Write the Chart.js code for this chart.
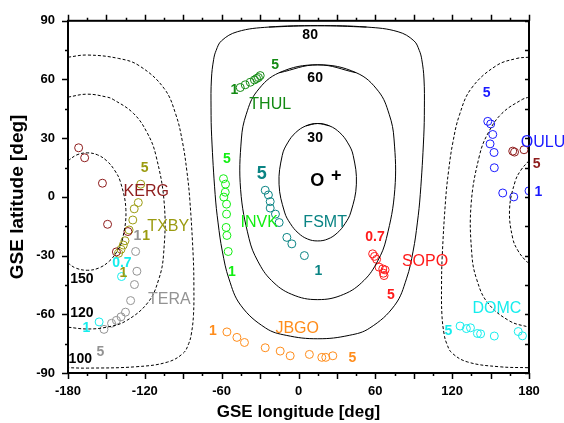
<!DOCTYPE html>
<html>
<head>
<meta charset="utf-8">
<script src="https://cdn.jsdelivr.net/npm/chart.js@4.4.0/dist/chart.umd.min.js"></script>
<style>
  html, body { margin: 0; padding: 0; background: #fff; }
</style>
</head>
<body>
<canvas id="myChart" width="564" height="423"></canvas>
<script>
// station tracks, [GSE longitude, GSE latitude]
const thul = [[-45.5,55.9],[-41.6,57.3],[-37.7,58.6],[-34.4,59.8],[-32.7,60.5],[-31.3,61.0],[-29.9,62.0]];
const invk = [[-58.6,9.3],[-57.0,6.5],[-57.2,2.4],[-58.3,-0.1],[-56.2,-3.7],[-56.2,-8.8],[-56.5,-15.6],[-55.9,-19.7],[-54.9,-27.9]];
const fsmt = [[-26.0,3.4],[-23.5,1.0],[-22.1,-2.4],[-22.1,-5.7],[-18.0,-8.8],[-15.1,-13.1],[-9.1,-20.7],[-5.2,-24.0],[4.6,-30.0]];
const sopo = [[57.9,-29.1],[59.4,-30.4],[61.0,-31.9],[62.9,-35.9],[65.8,-36.8],[67.6,-37.3],[66.3,-39.0],[66.8,-40.2]];
const jbgo = [[-55.9,-69.0],[-48.1,-71.8],[-42.2,-74.4],[-26.0,-77.1],[-14.3,-78.8],[-6.5,-81.2],[8.5,-80.5],[18.2,-82.0],[21.3,-82.0],[26.8,-81.2]];
const domc = [[126.2,-66.0],[131.1,-67.3],[134.3,-66.9],[139.7,-69.8],[142.2,-70.0],[152.9,-71.1],[171.6,-68.8],[174.9,-71.0],[-155.7,-63.9],[-138.2,-40.7]];
const oulu = [[147.8,38.6],[150.1,37.3],[151.7,31.9],[149.6,27.1],[152.7,22.7],[152.9,14.9],[159.5,2.0],[168.1,0.0],[180.0,3.1]];
const kerg = [[-171.7,25.1],[-167.0,20.0],[-153.1,7.0],[-149.1,-14.0],[-133.2,-17.7],[-142.2,-28.1],[167.3,23.4],[168.7,22.9],[176.1,24.1]];
const txby = [[-123.2,6.5],[-125.1,-2.9],[-128.3,-6.1],[-129.4,-11.8],[-132.3,-16.9],[-135.5,-22.4],[-136.8,-24.6],[-138.6,-26.8],[-140.5,-28.8]];
const tera = [[-127.2,-27.9],[-126.2,-38.0],[-128.1,-44.8],[-131.1,-53.0],[-135.1,-58.9],[-138.6,-61.3],[-142.2,-63.1],[-146.0,-64.6],[-151.9,-67.7]];

// contour lines of angle [deg]
const contour30 = [[15,37.5],[24.2,36.3],[32.3,32.8],[38.5,27.6],[42.7,21.2],[45.2,6.5],[40.9,-7.75],[36.3,-13.7],[30.3,-18.4],[23,-21.5],[15,-22.5],[7,-21.5],[-0.3,-18.4],[-6.3,-13.7],[-10.9,-7.75],[-15.2,6.5],[-12.7,21.2],[-8.5,27.6],[-2.3,32.8],[5.8,36.3],[15,37.5]];
const contour60 = [[15,67.5],[45.1,63.45],[62.4,54.0],[70.8,42.25],[74.6,29.6],[75.2,3.7],[68.6,-21.35],[61.8,-32.8],[51.1,-42.7],[35.3,-49.8],[15,-52.5],[-5.3,-49.8],[-21.1,-42.7],[-31.8,-32.8],[-38.6,-21.35],[-45.2,3.7],[-44.6,29.6],[-40.8,42.25],[-32.4,54.0],[-15.1,63.45],[15,67.5]];
const contour80 = [[15,87.5],[53.2,86.8],[77.8,84.4],[90.1,79.8],[94.3,74.9],[96.3,70.1],[98.0,60.25],[98.3,45.5],[97.8,30.7],[95.1,1.3],[92.8,-13.3],[89.5,-27.7],[84.3,-41.9],[75.1,-55.4],[55.7,-67.0],[39.6,-70.75],[15,-72.5],[-9.6,-70.75],[-25.7,-67.0],[-45.1,-55.4],[-54.3,-41.9],[-59.5,-27.7],[-62.8,-13.3],[-65.1,1.3],[-67.8,30.7],[-68.3,45.5],[-68.0,60.25],[-66.3,70.1],[-64.3,74.9],[-60.1,79.8],[-47.8,84.4],[-23.2,86.8],[15,87.5]];
const contour100a = [[-180,71.4],[-165,72.5],[-140.4,70.75],[-124.3,67],[-104.9,55.4],[-95.7,41.9],[-90.5,27.7],[-87.2,13.3],[-84.9,-1.3],[-82.2,-30.7],[-81.7,-45.5],[-82,-60.25],[-83.7,-70.1],[-85.7,-74.9],[-89.9,-79.8],[-102.2,-84.4],[-126.8,-86.8],[-165,-87.5],[-180,-87.3]];
const contour100b = [[180,71.4],[170.4,70.75],[154.3,67],[134.9,55.4],[125.7,41.9],[120.5,27.7],[117.2,13.3],[114.9,-1.3],[112.2,-30.7],[111.7,-45.5],[112,-60.25],[113.7,-70.1],[115.7,-74.9],[119.9,-79.8],[132.2,-84.4],[156.8,-86.8],[180,-87.3]];
const contour120a = [[-180,51.0],[-165,52.5],[-149.8,51.05],[-144.7,49.8],[-128.9,42.7],[-118.2,32.8],[-111.4,21.35],[-104.8,-3.7],[-105.4,-29.6],[-109.2,-42.25],[-117.6,-54.0],[-134.9,-63.45],[-149.6,-66.55],[-165,-67.5],[-180,-66.6]];
const contour120b = [[180,51.0],[174.7,49.8],[158.9,42.7],[148.2,32.8],[141.4,21.35],[134.8,-3.7],[135.4,-29.6],[139.2,-42.25],[147.6,-54],[164.9,-63.45],[180,-66.6]];
const contour150a = [[-180,18.5],[-173,21.5],[-165,22.5],[-157,21.5],[-149.7,18.4],[-143.7,13.7],[-139.1,7.75],[-134.8,-6.5],[-137.3,-21.2],[-141.5,-27.6],[-147.7,-32.8],[-155.8,-36.3],[-165,-37.5],[-174.2,-36.3],[-180,-33.8]];
const contour150b = [[180,18.5],[173.7,13.7],[169.1,7.75],[164.8,-6.5],[167.3,-21.2],[171.5,-27.6],[177.7,-32.8],[180,-33.8]];

const xTicks = [-180, -120, -60, 0, 60, 120, 180];
const yTicks = [-90, -60, -30, 0, 30, 60, 90];

const colors = {
  THUL: '#138a13', INVK: '#11ee11', FSMT: '#0a8484', SOPO: '#ff1a1a', JBGO: '#ff8c1a',
  DOMC: '#15eded', OULU: '#1a1aff', KERG: '#8e1c1c', TXBY: '#9b9b10', TERA: '#939393', K: '#000'
};

// text notes: text, lon, lat, colour key, kind
const notes = [
  ['THUL', -22.1, 47.3, 'THUL', 'name'], ['1', -50, 54.8, 'THUL', 'num'], ['5', -18.2, 67.5, 'THUL', 'num'],
  ['INVK', -30.7, -13.2, 'INVK', 'name'], ['5', -55.9, 19.2, 'INVK', 'num'], ['1', -52.0, -38.5, 'INVK', 'num'],
  ['FSMT', 20.8, -13.2, 'FSMT', 'name'], ['5', -28.6, 11.5, 'FSMT', 'big'], ['1', 15.6, -38, 'FSMT', 'num'],
  ['SOPO', 98.8, -33, 'SOPO', 'name'], ['0.7', 59.7, -20.7, 'SOPO', 'num'], ['5', 72.1, -50.3, 'SOPO', 'num'],
  ['JBGO', -1.0, -67.1, 'JBGO', 'name'], ['1', -66.8, -68.6, 'JBGO', 'num'], ['5', 42.1, -82.5, 'JBGO', 'num'],
  ['DOMC', 155, -56.9, 'DOMC', 'name'], ['5', 117, -68.6, 'DOMC', 'num'], ['0.7', -137.9, -33.6, 'DOMC', 'num'], ['1', -165.7, -67.1, 'DOMC', 'num'],
  ['OULU', 190.9, 27.5, 'OULU', 'name'], ['5', 147, 53, 'OULU', 'num'], ['1', 187.3, 2.2, 'OULU', 'num'],
  ['KERG', -118.9, 2.5, 'KERG', 'name'], ['5', 186, 16.6, 'KERG', 'num'],
  ['TXBY', -101.7, -15.3, 'TXBY', 'name'], ['5', -120.2, 14.9, 'TXBY', 'num'], ['1', -118.9, -19.8, 'TXBY', 'num'], ['1', -136.8, -39.1, 'TXBY', 'num'],
  ['TERA', -100.9, -52.4, 'TERA', 'name'], ['1', -125.9, -19.8, 'TERA', 'num'], ['5', -154.8, -79.3, 'TERA', 'num'],
  ['80', 9.1, 82.7, 'K', 'num'], ['60', 13, 60.7, 'K', 'num'], ['30', 13, 30.1, 'K', 'num'],
  ['150', -169.1, -41.8, 'K', 'num'], ['120', -169.1, -59.3, 'K', 'num'], ['100', -170.4, -82.9, 'K', 'num'],
  ['O', 14.6, 8.1, 'K', 'big'], ['+', 29.4, 10.7, 'K', 'big']
];

const fonts = {
  name: '16px "Liberation Sans", Arial, sans-serif',
  num: 'bold 14px "Liberation Sans", Arial, sans-serif',
  big: 'bold 18px "Liberation Sans", Arial, sans-serif'
};

function pts(arr) {
  return arr.map(p => ({x: p[0], y: p[1]}));
}
// closed contour: repeat neighbours so the join is smooth too
function loop(arr) {
  const n = arr.length;
  return pts([arr[n - 2]].concat(arr, [arr[1]]));
}

function station(key, arr) {
  return {
    label: key, data: pts(arr), showLine: false,
    pointStyle: 'circle', pointRadius: 4, borderWidth: 1,
    borderColor: colors[key], backgroundColor: 'rgba(0,0,0,0)'
  };
}
function contour(data, dashed) {
  return {
    data: data, showLine: true, pointRadius: 0, borderWidth: 1,
    borderColor: '#000', tension: 0.4, borderDash: dashed ? [3, 2] : []
  };
}

const frame = {
  id: 'frame',
  afterDatasetsDraw(chart) {
    const ctx = chart.ctx;
    const a = chart.chartArea;
    const x = chart.scales.x, y = chart.scales.y;
    ctx.save();
    ctx.strokeStyle = '#000';
    ctx.lineWidth = 1.5;
    ctx.beginPath();
    for (let v = -180; v <= 180; v += 15) {
      const px = Math.round(x.getPixelForValue(v)) + 0.5;
      const len = v % 30 === 0 ? 6 : 3;
      ctx.moveTo(px, a.bottom); ctx.lineTo(px, a.bottom + len);
      ctx.moveTo(px, a.top); ctx.lineTo(px, a.top - len);
    }
    for (let v = -90; v <= 90; v += 15) {
      const py = Math.round(y.getPixelForValue(v)) + 0.5;
      const len = v % 30 === 0 ? 6 : 3;
      ctx.moveTo(a.left, py); ctx.lineTo(a.left - len, py);
      ctx.moveTo(a.right, py); ctx.lineTo(a.right - 4, py);
    }
    ctx.stroke();
    ctx.lineWidth = 2;
    ctx.strokeRect(a.left, a.top, a.right - a.left, a.bottom - a.top);

    ctx.textAlign = 'center';
    ctx.textBaseline = 'middle';
    notes.forEach(n => {
      ctx.font = fonts[n[4]];
      ctx.fillStyle = colors[n[3]];
      ctx.fillText(n[0], x.getPixelForValue(n[1]), y.getPixelForValue(n[2]));
    });
    ctx.restore();
  }
};

const ctx = document.getElementById('myChart');
const myChart = new Chart(ctx, {
  type: 'scatter',
  data: {
    datasets: [
      contour(loop(contour30)), contour(loop(contour60)), contour(loop(contour80)),
      contour(pts(contour100a), true), contour(pts(contour100b), true),
      contour(pts(contour120a), true), contour(pts(contour120b), true),
      contour(pts(contour150a), true), contour(pts(contour150b), true),
      station('THUL', thul), station('INVK', invk), station('FSMT', fsmt),
      station('SOPO', sopo), station('JBGO', jbgo), station('DOMC', domc),
      station('OULU', oulu), station('KERG', kerg), station('TXBY', txby), station('TERA', tera)
    ]
  },
  options: {
    responsive: false,
    animation: false,
    events: [],
    devicePixelRatio: 1,
    layout: { padding: { top: 19, right: 35, left: 0, bottom: 0 } },
    plugins: { legend: { display: false }, tooltip: { enabled: false } },
    scales: {
      x: {
        type: 'linear', min: -180, max: 180,
        afterFit: s => { s.height = 50; },
        afterBuildTicks: s => { s.ticks = xTicks.map(v => ({value: v})); },
        grid: { display: false, drawTicks: false },
        border: { display: false },
        ticks: {
          autoSkip: false, maxRotation: 0, padding: 11, color: '#000',
          font: { family: '"Liberation Sans", Arial, sans-serif', size: 13, weight: 'bold' }
        },
        title: {
          display: true, text: 'GSE longitude [deg]', color: '#000', padding: { top: 0, bottom: 0 },
          font: { family: '"Liberation Sans", Arial, sans-serif', size: 17, weight: 'bold' }
        }
      },
      y: {
        type: 'linear', min: -90, max: 90,
        afterFit: s => { s.width = 68; },
        afterBuildTicks: s => { s.ticks = yTicks.map(v => ({value: v})); },
        grid: { display: false, drawTicks: false },
        border: { display: false },
        ticks: {
          autoSkip: false, padding: 13, color: '#000',
          font: { family: '"Liberation Sans", Arial, sans-serif', size: 13, weight: 'bold' }
        },
        title: {
          display: true, text: 'GSE latitude [deg]', color: '#000', padding: { top: 6, bottom: 0 },
          font: { family: '"Liberation Sans", Arial, sans-serif', size: 19, weight: 'bold' }
        }
      }
    }
  },
  plugins: [frame]
});
</script>
</body>
</html>
